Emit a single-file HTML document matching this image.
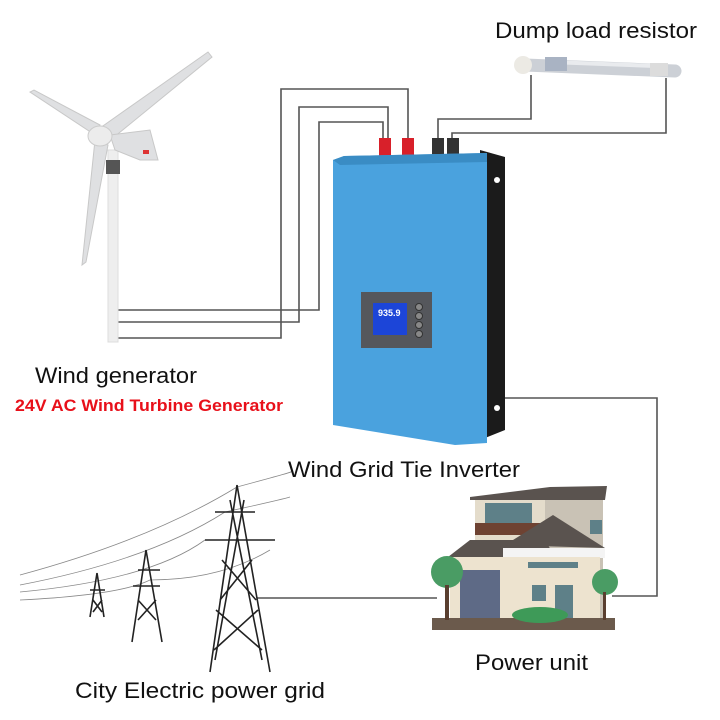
<!DOCTYPE html>
<html><head><meta charset="utf-8"><style>
html,body{margin:0;padding:0;background:#fff;}
svg{display:block}
text{font-family:"Liberation Sans",sans-serif;}
</style></head><body>
<svg width="720" height="720" viewBox="0 0 720 720" xmlns="http://www.w3.org/2000/svg">
<rect width="720" height="720" fill="#fff"/>
<g fill="none" stroke="#555" stroke-width="1.6">
<polyline points="118,338 281,338 281,89 408,89 408,140"/>
<polyline points="118,322 299,322 299,107 388,107 388,140"/>
<polyline points="118,310 319,310 319,122 383,122 383,140"/>
<polyline points="438,140 438,119 531,119 531,75"/>
<polyline points="452,140 452,133 666,133 666,78"/>
<polyline points="505,398 657,398 657,596 612,596"/>
<polyline points="257,598 437,598"/>
</g>
<g>
<line x1="525" y1="65" x2="675" y2="71" stroke="#ccd0d6" stroke-width="13" stroke-linecap="round"/>
<line x1="550" y1="62" x2="655" y2="66" stroke="#e9ebee" stroke-width="4"/>
<rect x="545" y="57" width="22" height="14" fill="#a9b3c3"/>
<circle cx="523" cy="65" r="9" fill="#eceae4"/>
<rect x="650" y="63" width="18" height="13" fill="#dcdcdc"/>
</g>
<g>
<rect x="379" y="138" width="12" height="20" fill="#d8202a"/>
<rect x="402" y="138" width="12" height="20" fill="#d8202a"/>
<rect x="432" y="138" width="12" height="20" fill="#333"/>
<rect x="447" y="138" width="12" height="20" fill="#333"/>
</g>
<polygon points="480,150 505,157 505,430 480,440" fill="#1b1b1b"/>
<circle cx="497" cy="180" r="3" fill="#fff"/>
<circle cx="497" cy="408" r="3" fill="#fff"/>
<polygon points="333,160 344,156 487,153 487,443 455,445 333,425" fill="#4aa2de"/>
<polygon points="333,160 344,156 487,153 487,162 340,165" fill="#3a8cc4"/>
<rect x="361" y="292" width="71" height="56" fill="#55575c"/>
<rect x="373" y="303" width="34" height="32" fill="#1c45d8"/>
<text x="378" y="316" font-size="9" fill="#fff" font-weight="bold">935.9</text>
<g fill="#888" stroke="#333" stroke-width="1"><circle cx="419" cy="307" r="3.5"/><circle cx="419" cy="316" r="3.5"/><circle cx="419" cy="325" r="3.5"/><circle cx="419" cy="334" r="3.5"/></g>
<rect x="108" y="150" width="10" height="192" fill="#eeeeee" stroke="#ddd"/>
<rect x="106" y="160" width="14" height="14" fill="#555"/>
<g fill="#dfe0e2" stroke="#c8c8c8" stroke-width="1">
<polygon points="100,128 208,52 212,57 108,142"/>
<polygon points="95,135 30,92 34,90 100,125"/>
<polygon points="95,140 82,265 86,262 108,145"/>
<polygon points="110,135 150,130 158,160 140,160 115,150"/>
</g>
<ellipse cx="100" cy="136" rx="12" ry="10" fill="#ececec" stroke="#ccc"/>
<rect x="143" y="150" width="6" height="4" fill="#d33"/>
<g fill="none" stroke="#888" stroke-width="0.8">
<path d="M20,575 Q150,540 237,487 Q300,470 290,472"/>
<path d="M20,585 Q150,560 225,512 Q280,500 290,497"/>
<path d="M20,592 Q150,580 205,540 Q260,540 275,540"/>
<path d="M20,600 Q120,595 150,580 Q220,580 270,550"/>
</g>
<g fill="none" stroke="#222" stroke-width="1.6">
<path d="M237,485 L210,672 M237,485 L270,672 M230,500 L262,660 M244,500 L215,660 M215,512 L255,512 M205,540 L275,540 M222,560 L256,600 M252,560 L220,600 M216,610 L262,650 M258,610 L214,650"/>
<path d="M146,550 L132,642 M146,550 L162,642 M138,570 L160,570 M133,586 L160,586 M138,600 L156,620 M156,600 L138,620"/>
<path d="M97,573 L90,617 M97,573 L104,617 M90,590 L105,590 M93,600 L102,612 M102,600 L93,612"/>
</g>
<g>
<rect x="432" y="618" width="183" height="12" fill="#6b5a4c"/>
<polygon points="470,497 550,487 607,486 605,500 470,500" fill="#5a534f"/>
<rect x="475" y="500" width="128" height="118" fill="#e4dccb"/>
<rect x="545" y="500" width="58" height="118" fill="#c9c2b5"/>
<rect x="485" y="503" width="47" height="20" fill="#5e8088"/>
<rect x="475" y="523" width="70" height="12" fill="#6e4232"/>
<polygon points="448,557 470,540 545,540 555,557" fill="#5a534f"/>
<polygon points="505,545 553,515 605,548" fill="#5a534f"/>
<rect x="503" y="548" width="102" height="10" fill="#f4f4f4"/>
<rect x="450" y="557" width="150" height="61" fill="#ede3cf"/>
<rect x="460" y="570" width="40" height="48" fill="#5e6a86"/>
<rect x="528" y="562" width="50" height="6" fill="#5e8088"/>
<rect x="532" y="585" width="14" height="16" fill="#5e8088"/>
<rect x="555" y="585" width="18" height="33" fill="#5e8088"/>
<rect x="590" y="520" width="12" height="14" fill="#5e8088"/>
<circle cx="447" cy="572" r="16" fill="#4a9c64"/>
<rect x="445" y="585" width="4" height="35" fill="#5a3f30"/>
<circle cx="605" cy="582" r="13" fill="#4a9c64"/>
<rect x="603" y="592" width="3" height="28" fill="#5a3f30"/>
<ellipse cx="540" cy="615" rx="28" ry="8" fill="#3e9a58"/>
</g>
<text x="495" y="38" font-size="22" fill="#111" textLength="202" lengthAdjust="spacingAndGlyphs">Dump load resistor</text>
<text x="35" y="383" font-size="22" fill="#111" textLength="162" lengthAdjust="spacingAndGlyphs">Wind generator</text>
<text x="15" y="411" font-size="17" fill="#e8101a" font-weight="bold" textLength="268" lengthAdjust="spacingAndGlyphs">24V AC Wind Turbine Generator</text>
<text x="288" y="477" font-size="22" fill="#111" textLength="232" lengthAdjust="spacingAndGlyphs">Wind Grid Tie Inverter</text>
<text x="475" y="670" font-size="22" fill="#111" textLength="113" lengthAdjust="spacingAndGlyphs">Power unit</text>
<text x="75" y="698" font-size="22" fill="#111" textLength="250" lengthAdjust="spacingAndGlyphs">City Electric power grid</text>
</svg>
</body></html>
